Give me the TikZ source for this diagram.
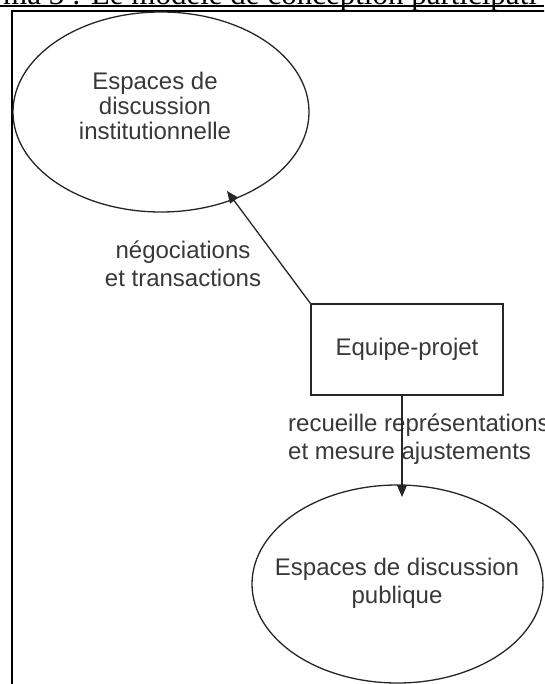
\documentclass[tikz,border=0pt]{standalone}
\usepackage{fontspec}
\setmainfont{Liberation Sans}
\newfontfamily\titlefont{Liberation Serif}
\usetikzlibrary{arrows.meta,shapes.geometric}
\definecolor{ink}{rgb}{0.15,0.15,0.15}
\definecolor{txt}{rgb}{0.22,0.22,0.22}
\begin{document}
\begin{tikzpicture}[x=1pt,y=-1pt,
  shapeline/.style={draw=ink,line width=1.3pt},
  lbl/.style={text=txt,inner sep=0pt,font=\fontsize{24}{28}\selectfont},
  conn/.style={draw=ink,line width=1.3pt,-{Triangle[length=12pt,width=10pt]}}]
\useasboundingbox (0,0) rectangle (544,684);
\clip (0,0) rectangle (544,684);
% title (cut off at the top)
\node[anchor=base west,inner sep=0pt,font=\titlefont\fontsize{31}{34}\selectfont] (title) at (3,4.5) {ma 3 : Le modèle de conception participati};
\draw[line width=1.6pt] (0,6.2) -- (544,6.2);
% frame
\draw[line width=2pt] (12,684) -- (12,11) -- (545,11);
% ellipses
\node[shapeline,ellipse,minimum width=296pt,minimum height=200pt] (inst) at (161,112) {};
\node[lbl,align=center,font=\fontsize{24}{25}\selectfont] (instt) at (155,106) {Espaces de\\discussion\\institutionnelle};
\node[shapeline,ellipse,minimum width=291pt,minimum height=198pt] (pub) at (397.5,584) {};
\node[lbl,align=center] (pubt) at (397,583) {Espaces de discussion\\publique};
% box
\node[shapeline,rectangle,minimum width=192pt,minimum height=91pt,text=txt,inner sep=0pt,font=\fontsize{24}{28}\selectfont] (eq) at (407,349.5) {Equipe-projet};
% labels
\node[lbl,align=center,anchor=base] (neg) at (183,286) {négociations\\et transactions};
\node[lbl,align=left,anchor=base west] (rec) at (288,459) {recueille représentations\\et mesure ajustements};
% connectors
\coordinate (t1) at (227,191);
\coordinate (t2) at (402,497);
\draw[conn] (eq.north west) -- (t1);
\draw[conn] ([xshift=-5pt]eq.south) -- (t2);
\end{tikzpicture}
\end{document}
